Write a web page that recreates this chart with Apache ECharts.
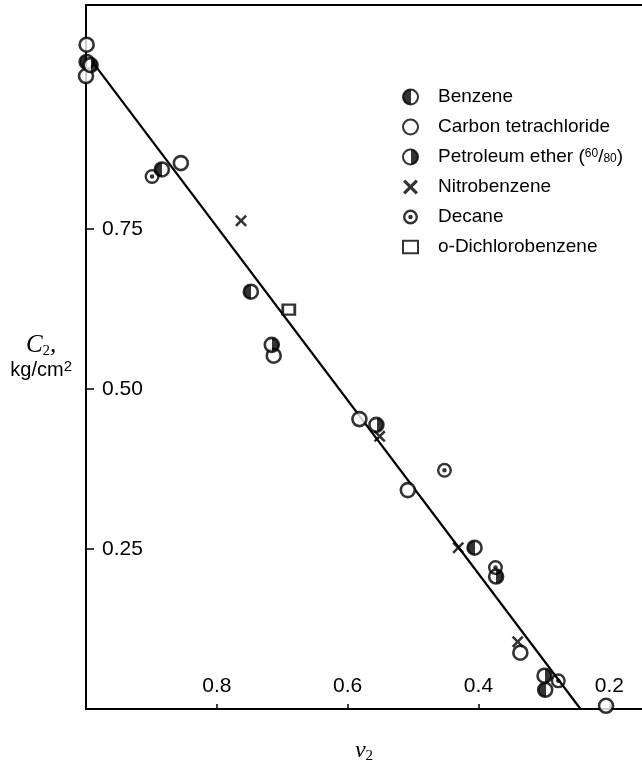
<!DOCTYPE html>
<html>
<head>
<meta charset="utf-8">
<script src="https://cdn.jsdelivr.net/npm/echarts@6/dist/echarts.min.js"></script>
<style>
	html, body { margin: 0; padding: 0; background: #fff; }
	#chart { width: 642px; height: 768px; }
</style>
</head>
<body>
<div id="chart"></div>
<script>
// values: v2 (volume fraction) and C2 (kg/cm2)
var benzeneV2 = [0.999, 0.884, 0.748, 0.406, 0.298];
var benzeneC2 = [1.011, 0.843, 0.652, 0.252, 0.030];
var carbonV2 = [0.999, 1.0, 0.855, 0.713, 0.582, 0.508, 0.336, 0.205];
var carbonC2 = [1.038, 0.989, 0.853, 0.552, 0.453, 0.342, 0.088, 0.005];
var petrolV2 = [0.993, 0.716, 0.556, 0.373, 0.299];
var petrolC2 = [1.006, 0.569, 0.444, 0.207, 0.052];
var nitroV2 = [0.763, 0.551, 0.431, 0.340];
var nitroC2 = [0.763, 0.426, 0.252, 0.105];
var decaneV2 = [0.899, 0.452, 0.374, 0.278];
var decaneC2 = [0.832, 0.373, 0.221, 0.044];
var dichloroV2 = [0.690];
var dichloroC2 = [0.624];
var fitV2 = [0.993, 0.244];
var fitC2 = [1.015, 0];
var xTicks = [0.2, 0.4, 0.6, 0.8];
var yTicks = [0.25, 0.5, 0.75];

var font = "'Liberation Sans', Arial, sans-serif";
var serif = "'Liberation Serif', serif";
var petrolName = 'Petroleum ether (60/80)';

function pairs(xs, ys) {
	var out = [];
	for (var i = 0; i < xs.length; i++) out.push([xs[i], ys[i]]);
	return out;
}

function halfFill(leftBlack) {
	var a = leftBlack ? '#000' : '#fff', b = leftBlack ? '#fff' : '#000';
	return {
		type: 'linear', x: 0, y: 0, x2: 1, y2: 0,
		colorStops: [
			{ offset: 0, color: a }, { offset: 0.52, color: a },
			{ offset: 0.52, color: b }, { offset: 1, color: b }
		]
	};
}

var dotCircle = 'path://M0 10A10 10 0 1 1 20 10A10 10 0 1 1 0 10ZM3.2 10A6.8 6.8 0 1 0 16.8 10A6.8 6.8 0 1 0 3.2 10ZM7 10A3 3 0 1 1 13 10A3 3 0 1 1 7 10Z';
var cross = 'path://M0 3L3 0L10 7L17 0L20 3L13 10L20 17L17 20L10 13L3 20L0 17L7 10Z';
var square = 'path://M0 0H12V10H0Z';

function scatter(name, xs, ys, symbol, size, style) {
	return {
		name: name,
		type: 'scatter',
		symbol: symbol,
		symbolSize: size,
		z: 3,
		itemStyle: style,
		data: pairs(xs, ys)
	};
}

var chart = echarts.init(document.getElementById('chart'));
chart.setOption({
	animation: false,
	backgroundColor: '#fff',
	grid: { left: 86, right: 0, top: 5, bottom: 59, containLabel: false, outerBoundsMode: 'none' },
	legend: {
		orient: 'vertical',
		left: 397,
		top: 82,
		itemWidth: 15,
		itemHeight: 15,
		itemGap: 10,
		textStyle: {
			fontFamily: font, fontSize: 19, color: '#000', lineHeight: 20, padding: [0, 0, 0, 15],
			rich: {
				t: { fontFamily: font, fontSize: 19, color: '#000', lineHeight: 20 },
				sup: { fontFamily: font, fontSize: 12, color: '#000', lineHeight: 20, padding: [0, 0, 7, 0] },
				sub: { fontFamily: font, fontSize: 12, color: '#000', lineHeight: 20, padding: [3, 0, 0, 0] }
			}
		},
		formatter: function(name) {
			if (name === petrolName) return '{t|Petroleum ether (}{sup|60}{t|/}{sub|80}{t|)}';
			return name;
		},
		data: ['Benzene', 'Carbon tetrachloride', petrolName, 'Nitrobenzene', 'Decane', 'o-Dichlorobenzene']
	},
	xAxis: [{
		type: 'value',
		inverse: true,
		min: 0.15,
		max: 1.0,
		name: '{v|v}{s|2}',
		nameLocation: 'middle',
		nameGap: 28,
		nameTextStyle: {
			rich: {
				v: { fontFamily: serif, fontStyle: 'italic', fontSize: 24, color: '#000' },
				s: { fontFamily: serif, fontSize: 15, color: '#000', padding: [12, 0, 0, 0] }
			}
		},
		axisLine: { lineStyle: { color: '#000', width: 2 } },
		axisTick: { inside: true, length: 5, customValues: xTicks, lineStyle: { color: '#000', width: 1.5 } },
		axisLabel: {
			inside: true, margin: 12, customValues: xTicks,
			fontFamily: font, fontSize: 21, color: '#000',
			formatter: function(v) { return v.toFixed(1); }
		},
		splitLine: { show: false }
	}, {
		type: 'value',
		position: 'top',
		inverse: true,
		min: 0.15,
		max: 1.0,
		axisLine: { lineStyle: { color: '#000', width: 2 } },
		axisTick: { show: false },
		axisLabel: { show: false },
		splitLine: { show: false }
	}],
	yAxis: {
		type: 'value',
		min: 0,
		max: 1.1,
		name: '{c|C}{s|2}{c|,}\n{u|kg/cm}{p|2}',
		nameLocation: 'middle',
		nameRotate: 0,
		nameGap: 14,
		nameTextStyle: {
			align: 'right',
			rich: {
				c: { fontFamily: serif, fontStyle: 'italic', fontSize: 25, color: '#000', align: 'center' },
				s: { fontFamily: serif, fontSize: 15, color: '#000', padding: [12, 0, 0, 0], align: 'center' },
				u: { fontFamily: font, fontSize: 20, color: '#000', align: 'center' },
				p: { fontFamily: font, fontSize: 15, color: '#000', padding: [0, 0, 8, 0], align: 'center' }
			}
		},
		axisLine: { lineStyle: { color: '#000', width: 2 } },
		axisTick: { inside: true, length: 8, customValues: yTicks, lineStyle: { color: '#000', width: 1.5 } },
		axisLabel: {
			inside: true, margin: 16, customValues: yTicks,
			fontFamily: font, fontSize: 21, color: '#000',
			formatter: function(v) { return v.toFixed(2); }
		},
		splitLine: { show: false }
	},
	series: [
		{
			name: 'fit',
			type: 'line',
			symbol: 'none',
			z: 2,
			lineStyle: { color: '#000', width: 2.2 },
			data: pairs(fitV2, fitC2)
		},
		scatter('Benzene', benzeneV2, benzeneC2, 'circle', 14,
			{ color: halfFill(true), borderColor: '#000', borderWidth: 2.6 }),
		scatter('Carbon tetrachloride', carbonV2, carbonC2, 'circle', 14,
			{ color: '#fff', borderColor: '#000', borderWidth: 2.6 }),
		scatter(petrolName, petrolV2, petrolC2, 'circle', 14,
			{ color: halfFill(false), borderColor: '#000', borderWidth: 2.6 }),
		scatter('Nitrobenzene', nitroV2, nitroC2, cross, 12, { color: '#000' }),
		scatter('Decane', decaneV2, decaneC2, dotCircle, 15, { color: '#000' }),
		scatter('o-Dichlorobenzene', dichloroV2, dichloroC2, square, [12, 10],
			{ color: '#fff', borderColor: '#000', borderWidth: 2.6 })
	]
});
</script>
</body>
</html>
